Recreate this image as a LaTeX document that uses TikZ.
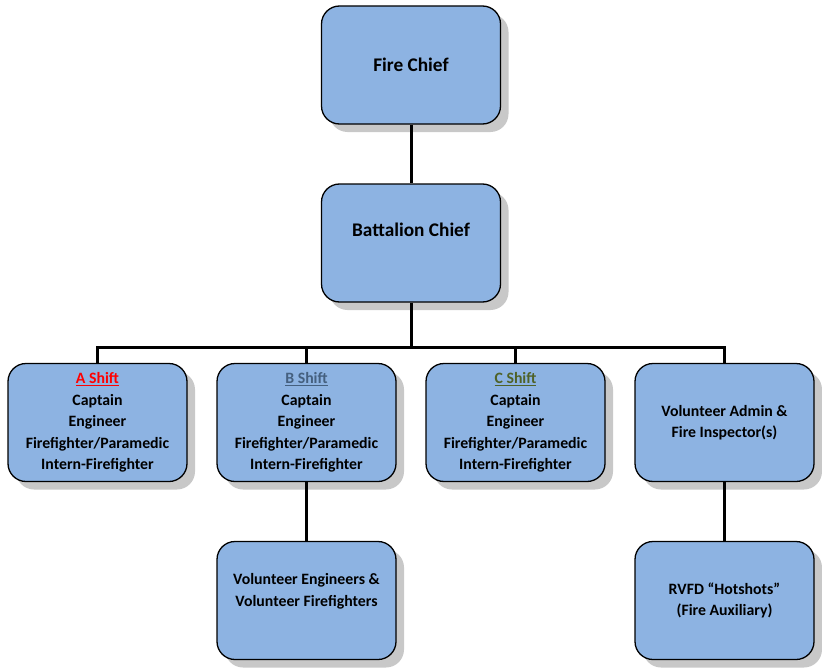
\documentclass[tikz,border=0pt]{standalone}
\usepackage{fontspec}
\setmainfont{Carlito}
\usetikzlibrary{shadows}
\definecolor{boxfill}{HTML}{8DB3E2}
\definecolor{shadowgray}{HTML}{C8C8C8}
\definecolor{bshift}{HTML}{45607F}
\definecolor{cshift}{HTML}{4F6228}
\tikzset{
  orgbox/.style={draw=black, line width=1.3pt, fill=boxfill, rounded corners=18pt,
    minimum width=179pt, minimum height=118pt, inner sep=2pt, align=center,
    font=\fontsize{15.8}{21.5}\selectfont\bfseries,
    drop shadow={shadow xshift=8pt, shadow yshift=-8pt, fill=shadowgray, opacity=1}},
  topbox/.style={orgbox, font=\fontsize{19.3}{26}\selectfont\bfseries},
  conn/.style={line width=3pt, draw=black}
}
\begin{document}
\begin{tikzpicture}[x=1pt,y=-1pt]
\useasboundingbox (0,0) rectangle (822,669);
\node[topbox] (fc) at (411,65) {Fire Chief};
\node[topbox] (bc) at (411,243) {Battalion Chief\\\mbox{}};
\node[orgbox] (a) at (97.5,422.5) {\textcolor{red}{\underline{A Shift}}\\Captain\\Engineer\\Firefighter/Paramedic\\Intern-Firefighter};
\node[orgbox] (b) at (306.5,422.5) {\textcolor{bshift}{\underline{B Shift}}\\Captain\\Engineer\\Firefighter/Paramedic\\Intern-Firefighter};
\node[orgbox] (c) at (515.5,422.5) {\textcolor{cshift}{\underline{C Shift}}\\Captain\\Engineer\\Firefighter/Paramedic\\Intern-Firefighter};
\node[orgbox] (va) at (724.5,422.5) {Volunteer Admin \&\\Fire Inspector(s)};
\node[orgbox] (ve) at (306.5,600.5) {Volunteer Engineers \&\\Volunteer Firefighters\\\mbox{}};
\node[orgbox] (rv) at (724.5,600.5) {RVFD “Hotshots”\\(Fire Auxiliary)};
\coordinate (bus) at (411,347.5);
\draw[conn] (fc.south) -- (bc.north);
\draw[conn] (bc.south) -- (bc.south |- bus);
\draw[conn] (a.north) -- (a.north |- bus) -- (va.north |- bus) -- (va.north);
\draw[conn] (b.north) -- (b.north |- bus);
\draw[conn] (c.north) -- (c.north |- bus);
\draw[conn] (b.south) -- (ve.north);
\draw[conn] (va.south) -- (rv.north);
\end{tikzpicture}
\end{document}
